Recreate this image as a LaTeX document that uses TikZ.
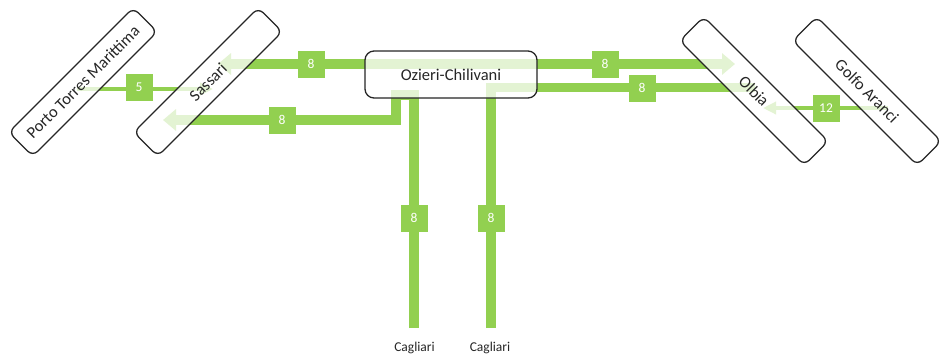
\documentclass[tikz,border=0pt]{standalone}
\usepackage{fontspec}
\setmainfont{Carlito}
\usetikzlibrary{arrows.meta}
\definecolor{lg}{HTML}{92D050}
\definecolor{ink}{HTML}{262626}
\begin{document}
\begin{tikzpicture}[x=1pt,y=-1pt,
 trunk/.style={draw=lg,line width=9.5pt},
 thinline/.style={draw=lg,line width=3.5pt},
 bigtip/.style={-{Triangle[length=13pt,width=21pt]}},
 smalltip/.style={-{Triangle[length=13pt,width=12pt]}},
 lbl/.style={fill=lg,minimum width=27pt,minimum height=27pt,inner sep=0pt,text=white,font=\fontsize{13.5}{13.5}\selectfont},
 station/.style={draw=black!85,line width=1.3pt,rounded corners=7pt,fill=white,fill opacity=0.75,text opacity=1,text=ink,font=\fontsize{16.5}{16.5}\selectfont,minimum width=176pt,minimum height=34pt,inner sep=0pt},
 endlbl/.style={text=ink,font=\fontsize{13.5}{13.5}\selectfont,inner sep=0pt}
 ]
\useasboundingbox (0,0) rectangle (944,354);
% coordinates
\coordinate (ozTop) at (451,64);
\coordinate (sasTop) at (218,64);
\coordinate (olbTop) at (735,64);
\coordinate (cagR) at (491,328);
\coordinate (cagRbend) at (491,87.5);
\coordinate (olbMid) at (755,87.5);
\coordinate (cagL) at (414,328);
\coordinate (cagLb1) at (414,95);
\coordinate (cagLb2) at (396,95);
\coordinate (cagLb3) at (396,120);
\coordinate (sasLow) at (163,120);
\coordinate (ptEnd) at (77,89);
\coordinate (sasMid) at (213,89);
\coordinate (gaEnd) at (888,108);
\coordinate (olbLow) at (763,108);
% connectors
\draw[trunk,bigtip] (ozTop) -- (sasTop);
\draw[trunk,bigtip] (ozTop) -- (olbTop);
\draw[trunk] (cagR) -- (cagRbend) -- (olbMid);
\draw[trunk,bigtip] (cagL) -- (cagLb1) -- (cagLb2) -- (cagLb3) -- (sasLow);
\draw[thinline,smalltip] (ptEnd) -- (sasMid);
\draw[thinline,smalltip] (gaEnd) -- (olbLow);
% labels
\node[lbl] (l1) at (311,64) {8};
\node[lbl] (l2) at (605,64) {8};
\node[lbl] (l3) at (642,88) {8};
\node[lbl] (l4) at (282,120) {8};
\node[lbl] (l5) at (414,218) {8};
\node[lbl] (l6) at (491,218) {8};
\node[lbl] (l7) at (139,87) {5};
\node[lbl] (l8) at (826,108) {12};
% stations
\node[station,minimum width=172pt,minimum height=47pt,rounded corners=9pt] (oz) at (451,74.5) {Ozieri-Chilivani};
\node[station,rotate=45] (pt) at (83,82) {Porto Torres Marittima};
\node[station,rotate=45] (sas) at (208,82) {Sassari};
\node[station,rotate=-45] (olb) at (754,91) {Olbia};
\node[station,rotate=-45] (ga) at (867,91) {Golfo Aranci};
\node[endlbl] (c1) at (414.5,348) {Cagliari};
\node[endlbl] (c2) at (490,348) {Cagliari};
\end{tikzpicture}
\end{document}
